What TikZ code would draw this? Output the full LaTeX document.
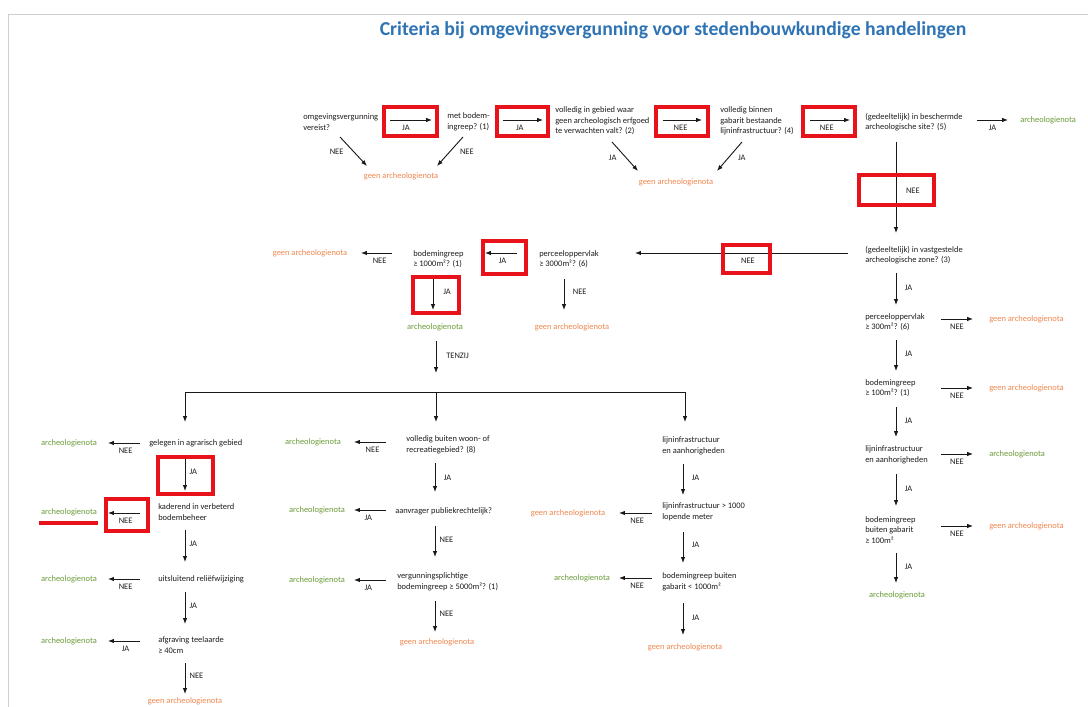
\documentclass[tikz,border=0pt]{standalone}
\usepackage{fontspec}
\setmainfont{Carlito}
\usetikzlibrary{arrows.meta}
\definecolor{txt}{HTML}{1E1E1E}
\definecolor{grn}{HTML}{6A9C38}
\definecolor{org}{HTML}{F0874F}
\definecolor{ttl}{HTML}{2E74B5}
\definecolor{hred}{HTML}{E8121A}
\definecolor{frm}{HTML}{CFCFCF}
\begin{document}
\begin{tikzpicture}[x=0.025cm,y=-0.025cm,
  base/.style={font=\fontsize{6}{7.5}\selectfont, inner sep=0pt},
  q/.style={base, text=txt, align=left, anchor=west},
  gnota/.style={base, text=grn},
  onota/.style={base, text=org},
  lbl/.style={base, text=txt, inner sep=0.8pt},
  hlab/.style={lbl, midway, below=2.4pt},
  vlab/.style={lbl, midway, right=2.2pt},
  arr/.style={draw=black!90, line width=0.65pt, -{Latex[length=4.2pt,width=3.2pt]}},
  hl/.style={draw=hred, line width=2.2pt},
]
\useasboundingbox (0,0) rectangle (1088,707);
\fill[white] (0,0) rectangle (1088,707);
\draw[frm, line width=0.6pt] (8,707) -- (8,14) -- (1088,14);

% title
\node[font=\bfseries\fontsize{14}{16}\selectfont, text=ttl, inner sep=0pt] (title) at (673,30)
  {Criteria bij omgevingsvergunning voor stedenbouwkundige handelingen};

% ---------------- top row
\node[q] (q1) at (303,122) {omgevingsvergunning\\vereist?};
\node[q] (q2) at (447,122) {met bodem-\\ingreep? (1)};
\node[q] (q3) at (555,121) {volledig in gebied waar\\geen archeologisch erfgoed\\te verwachten valt? (2)};
\node[q] (q4) at (720,121) {volledig binnen\\gabarit bestaande\\lijninfrastructuur? (4)};
\node[q] (q5) at (865,122) {(gedeeltelijk) in beschermde\\archeologische site? (5)};
\node[gnota, anchor=west] (r1) at (1020,120) {archeologienota};
\node[onota] (n1) at (401,176) {geen archeologienota};
\node[onota] (n2) at (676,182) {geen archeologienota};

\coordinate (a1s) at (390,120); \coordinate (a1e) at (432,120);
\coordinate (a2s) at (503,120); \coordinate (a2e) at (543,120);
\coordinate (a3s) at (663,120); \coordinate (a3e) at (702,120);
\coordinate (a4s) at (810,120); \coordinate (a4e) at (850,120);
\coordinate (a5s) at (977,120); \coordinate (a5e) at (1008,120);
\draw[arr] (a1s) -- node[hlab, pos=0.38]{JA} (a1e);
\draw[arr] (a2s) -- node[hlab, pos=0.42]{JA} (a2e);
\draw[arr] (a3s) -- node[hlab, pos=0.45]{NEE} (a3e);
\draw[arr] (a4s) -- node[hlab, pos=0.42]{NEE} (a4e);
\draw[arr] (a5s) -- node[hlab]{JA} (a5e);

\coordinate (d1s) at (340,137); \coordinate (d1e) at (367,166);
\coordinate (d2s) at (463,137); \coordinate (d2e) at (437,166);
\coordinate (d3s) at (612,142); \coordinate (d3e) at (638,171);
\coordinate (d4s) at (742,142); \coordinate (d4e) at (717,171);
\draw[arr] (d1s) -- node[lbl, midway, left=6pt]{NEE} (d1e);
\draw[arr] (d2s) -- node[lbl, midway, right=6pt]{NEE} (d2e);
\draw[arr] (d3s) -- node[lbl, midway, left=5pt, yshift=-1pt]{JA} (d3e);
\draw[arr] (d4s) -- node[lbl, midway, right=5pt, yshift=-1pt]{JA} (d4e);

\draw[hl] (384,107) rectangle (437,136);
\draw[hl] (497,107) rectangle (548,136);
\draw[hl] (656,107) rectangle (708,136);
\draw[hl] (803,107) rectangle (855,136);

% ---------------- site -> zone
\node[q] (q6) at (865,255) {(gedeeltelijk) in vastgestelde\\archeologische zone? (3)};
\coordinate (v1s) at (896,142); \coordinate (v1e) at (896,233);
\draw[arr] (v1s) -- node[lbl, pos=0.54, right=6pt]{NEE} (v1e);
\draw[hl] (859,175) rectangle (934,205);

% ---------------- second row (leftwards)
\node[q] (q7) at (539,259) {perceeloppervlak\\≥ 3000m²? (6)};
\node[q] (q8) at (413,259) {bodemingreep\\≥ 1000m²? (1)};
\node[onota] (n3) at (310,253) {geen archeologienota};
\node[gnota] (r2) at (435,327) {archeologienota};
\node[onota] (n4) at (572,327) {geen archeologienota};

\coordinate (h1s) at (848,253); \coordinate (h1e) at (635,253);
\coordinate (h2s) at (517,253); \coordinate (h2e) at (485,253);
\coordinate (h3s) at (392,253); \coordinate (h3e) at (361,253);
\draw[arr] (h1s) -- node[hlab, pos=0.47]{NEE} (h1e);
\draw[arr] (h2s) -- node[hlab, pos=0.45]{JA} (h2e);
\draw[arr] (h3s) -- node[hlab, pos=0.4]{NEE} (h3e);
\draw[hl] (723,245) rectangle (770,273);
\draw[hl] (483,241) rectangle (526,274);

\coordinate (v2s) at (433,277); \coordinate (v2e) at (433,310);
\coordinate (v3s) at (564,279); \coordinate (v3e) at (564,310);
\draw[arr] (v2s) -- node[vlab, pos=0.45, right=4pt]{JA} (v2e);
\draw[arr] (v3s) -- node[vlab, pos=0.42, right=3pt]{NEE} (v3e);
\draw[hl] (413,277) rectangle (459,313);

% ---------------- TENZIJ and fork
\coordinate (t1s) at (436,341); \coordinate (t1e) at (436,373);
\draw[arr] (t1s) -- node[vlab, pos=0.45, right=4pt]{TENZIJ} (t1e);
\coordinate (fork) at (436,392);
\coordinate (fl) at (185,422); \coordinate (fm) at (436,422); \coordinate (fr) at (685,422);
\draw[arr] (fork) -| (fl);
\draw[arr] (fork) -- (fm);
\draw[arr] (fork) -| (fr);

% ---------------- left column
\node[q] (l1) at (149,443) {gelegen in agrarisch gebied};
\node[q] (l2) at (158,512) {kaderend in verbeterd\\bodembeheer};
\node[q] (l3) at (158,579) {uitsluitend reliëfwijziging};
\node[q] (l4) at (158,645) {afgraving teelaarde\\≥ 40cm};
\node[gnota] (lr1) at (69,443) {archeologienota};
\node[gnota] (lr2) at (69,512) {archeologienota};
\node[gnota] (lr3) at (69,579) {archeologienota};
\node[gnota] (lr4) at (69,641) {archeologienota};
\node[onota] (ln5) at (185,701.5) {geen archeologienota};

\coordinate (lh1s) at (140,443); \coordinate (lh1e) at (108,443);
\coordinate (lh2s) at (140,513); \coordinate (lh2e) at (108,513);
\coordinate (lh3s) at (140,579); \coordinate (lh3e) at (108,579);
\coordinate (lh4s) at (140,641); \coordinate (lh4e) at (108,641);
\draw[arr] (lh1s) -- node[hlab, pos=0.45]{NEE} (lh1e);
\draw[arr] (lh2s) -- node[hlab, pos=0.45]{NEE} (lh2e);
\draw[arr] (lh3s) -- node[hlab, pos=0.45]{NEE} (lh3e);
\draw[arr] (lh4s) -- node[hlab, pos=0.45]{JA} (lh4e);

\coordinate (lv1s) at (185,458); \coordinate (lv1e) at (185,491);
\coordinate (lv2s) at (185,530); \coordinate (lv2e) at (185,562);
\coordinate (lv3s) at (185,592); \coordinate (lv3e) at (185,624);
\coordinate (lv4s) at (185,663); \coordinate (lv4e) at (185,694);
\draw[arr] (lv1s) -- node[vlab, pos=0.42]{JA} (lv1e);
\draw[arr] (lv2s) -- node[vlab, pos=0.42]{JA} (lv2e);
\draw[arr] (lv3s) -- node[vlab, pos=0.42]{JA} (lv3e);
\draw[arr] (lv4s) -- node[vlab, pos=0.42]{NEE} (lv4e);

\draw[hl] (158,457) rectangle (213,494);
\draw[hl] (106,499) rectangle (148,531);
\draw[hred, line width=2.8pt] (39,523) -- (98,523);

% ---------------- middle column
\node[q] (m1) at (406,445) {volledig buiten woon- of\\recreatiegebied? (8)};
\node[q] (m2) at (395,511) {aanvrager publiekrechtelijk?};
\node[q] (m3) at (397,582) {vergunningsplichtige\\bodemingreep ≥ 5000m²? (1)};
\node[gnota] (mr1) at (313,442) {archeologienota};
\node[gnota] (mr2) at (317,510) {archeologienota};
\node[gnota] (mr3) at (317,580) {archeologienota};
\node[onota] (mn4) at (437,642) {geen archeologienota};

\coordinate (mh1s) at (386,442); \coordinate (mh1e) at (354,442);
\coordinate (mh2s) at (386,510); \coordinate (mh2e) at (354,510);
\coordinate (mh3s) at (386,580); \coordinate (mh3e) at (354,580);
\draw[arr] (mh1s) -- node[hlab, pos=0.42]{NEE} (mh1e);
\draw[arr] (mh2s) -- node[hlab, pos=0.55]{JA} (mh2e);
\draw[arr] (mh3s) -- node[hlab, pos=0.55]{JA} (mh3e);

\coordinate (mv1s) at (435,463); \coordinate (mv1e) at (435,492);
\coordinate (mv2s) at (435,526); \coordinate (mv2e) at (435,557);
\coordinate (mv3s) at (435,601); \coordinate (mv3e) at (435,632);
\draw[arr] (mv1s) -- node[vlab, pos=0.5, right=3pt]{JA} (mv1e);
\draw[arr] (mv2s) -- node[vlab, pos=0.45]{NEE} (mv2e);
\draw[arr] (mv3s) -- node[vlab, pos=0.42]{NEE} (mv3e);

% ---------------- right-middle column
\node[q] (k1) at (662,446) {lijninfrastructuur\\en aanhorigheden};
\node[q] (k2) at (662,512) {lijninfrastructuur > 1000\\lopende meter};
\node[q] (k3) at (662,582) {bodemingreep buiten\\gabarit < 1000m²};
\node[onota] (kn1) at (568,513) {geen archeologienota};
\node[gnota] (kr2) at (582,578) {archeologienota};
\node[onota] (kn3) at (685,647) {geen archeologienota};

\coordinate (kh1s) at (652,513); \coordinate (kh1e) at (619,513);
\coordinate (kh2s) at (652,578); \coordinate (kh2e) at (619,578);
\draw[arr] (kh1s) -- node[hlab, pos=0.45]{NEE} (kh1e);
\draw[arr] (kh2s) -- node[hlab, pos=0.45]{NEE} (kh2e);

\coordinate (kv1s) at (683,464); \coordinate (kv1e) at (683,495);
\coordinate (kv2s) at (683,532); \coordinate (kv2e) at (683,563);
\coordinate (kv3s) at (683,603); \coordinate (kv3e) at (683,635);
\draw[arr] (kv1s) -- node[vlab, pos=0.45, right=3pt]{JA} (kv1e);
\draw[arr] (kv2s) -- node[vlab, pos=0.42, right=3pt]{JA} (kv2e);
\draw[arr] (kv3s) -- node[vlab, pos=0.45, right=3pt]{JA} (kv3e);

% ---------------- right column
\node[q] (p1) at (865,322) {perceeloppervlak\\≥ 300m²? (6)};
\node[q] (p2) at (865,388) {bodemingreep\\≥ 100m²? (1)};
\node[q] (p3) at (865,455) {lijninfrastructuur\\en aanhorigheden};
\node[q] (p4) at (865,530) {bodemingreep\\buiten gabarit\\≥ 100m²};
\node[onota, anchor=west] (pn1) at (989,319) {geen archeologienota};
\node[onota, anchor=west] (pn2) at (989,388) {geen archeologienota};
\node[gnota, anchor=west] (pr3) at (989,454) {archeologienota};
\node[onota, anchor=west] (pn4) at (989,526) {geen archeologienota};
\node[gnota] (pr5) at (897,595) {archeologienota};

\coordinate (ph1s) at (941,319); \coordinate (ph1e) at (973,319);
\coordinate (ph2s) at (941,388); \coordinate (ph2e) at (973,388);
\coordinate (ph3s) at (941,454); \coordinate (ph3e) at (973,454);
\coordinate (ph4s) at (941,526); \coordinate (ph4e) at (973,526);
\draw[arr] (ph1s) -- node[hlab]{NEE} (ph1e);
\draw[arr] (ph2s) -- node[hlab]{NEE} (ph2e);
\draw[arr] (ph3s) -- node[hlab]{NEE} (ph3e);
\draw[arr] (ph4s) -- node[hlab]{NEE} (ph4e);

\coordinate (pv0s) at (896,273); \coordinate (pv0e) at (896,305);
\coordinate (pv1s) at (896,340); \coordinate (pv1e) at (896,371);
\coordinate (pv2s) at (896,407); \coordinate (pv2e) at (896,437);
\coordinate (pv3s) at (896,474); \coordinate (pv3e) at (896,506);
\coordinate (pv4s) at (896,553); \coordinate (pv4e) at (896,583);
\draw[arr] (pv0s) -- node[vlab, pos=0.45, right=3pt]{JA} (pv0e);
\draw[arr] (pv1s) -- node[vlab, pos=0.45, right=3pt]{JA} (pv1e);
\draw[arr] (pv2s) -- node[vlab, pos=0.45, right=3pt]{JA} (pv2e);
\draw[arr] (pv3s) -- node[vlab, pos=0.45, right=3pt]{JA} (pv3e);
\draw[arr] (pv4s) -- node[vlab, pos=0.45, right=3pt]{JA} (pv4e);
\end{tikzpicture}
\end{document}
